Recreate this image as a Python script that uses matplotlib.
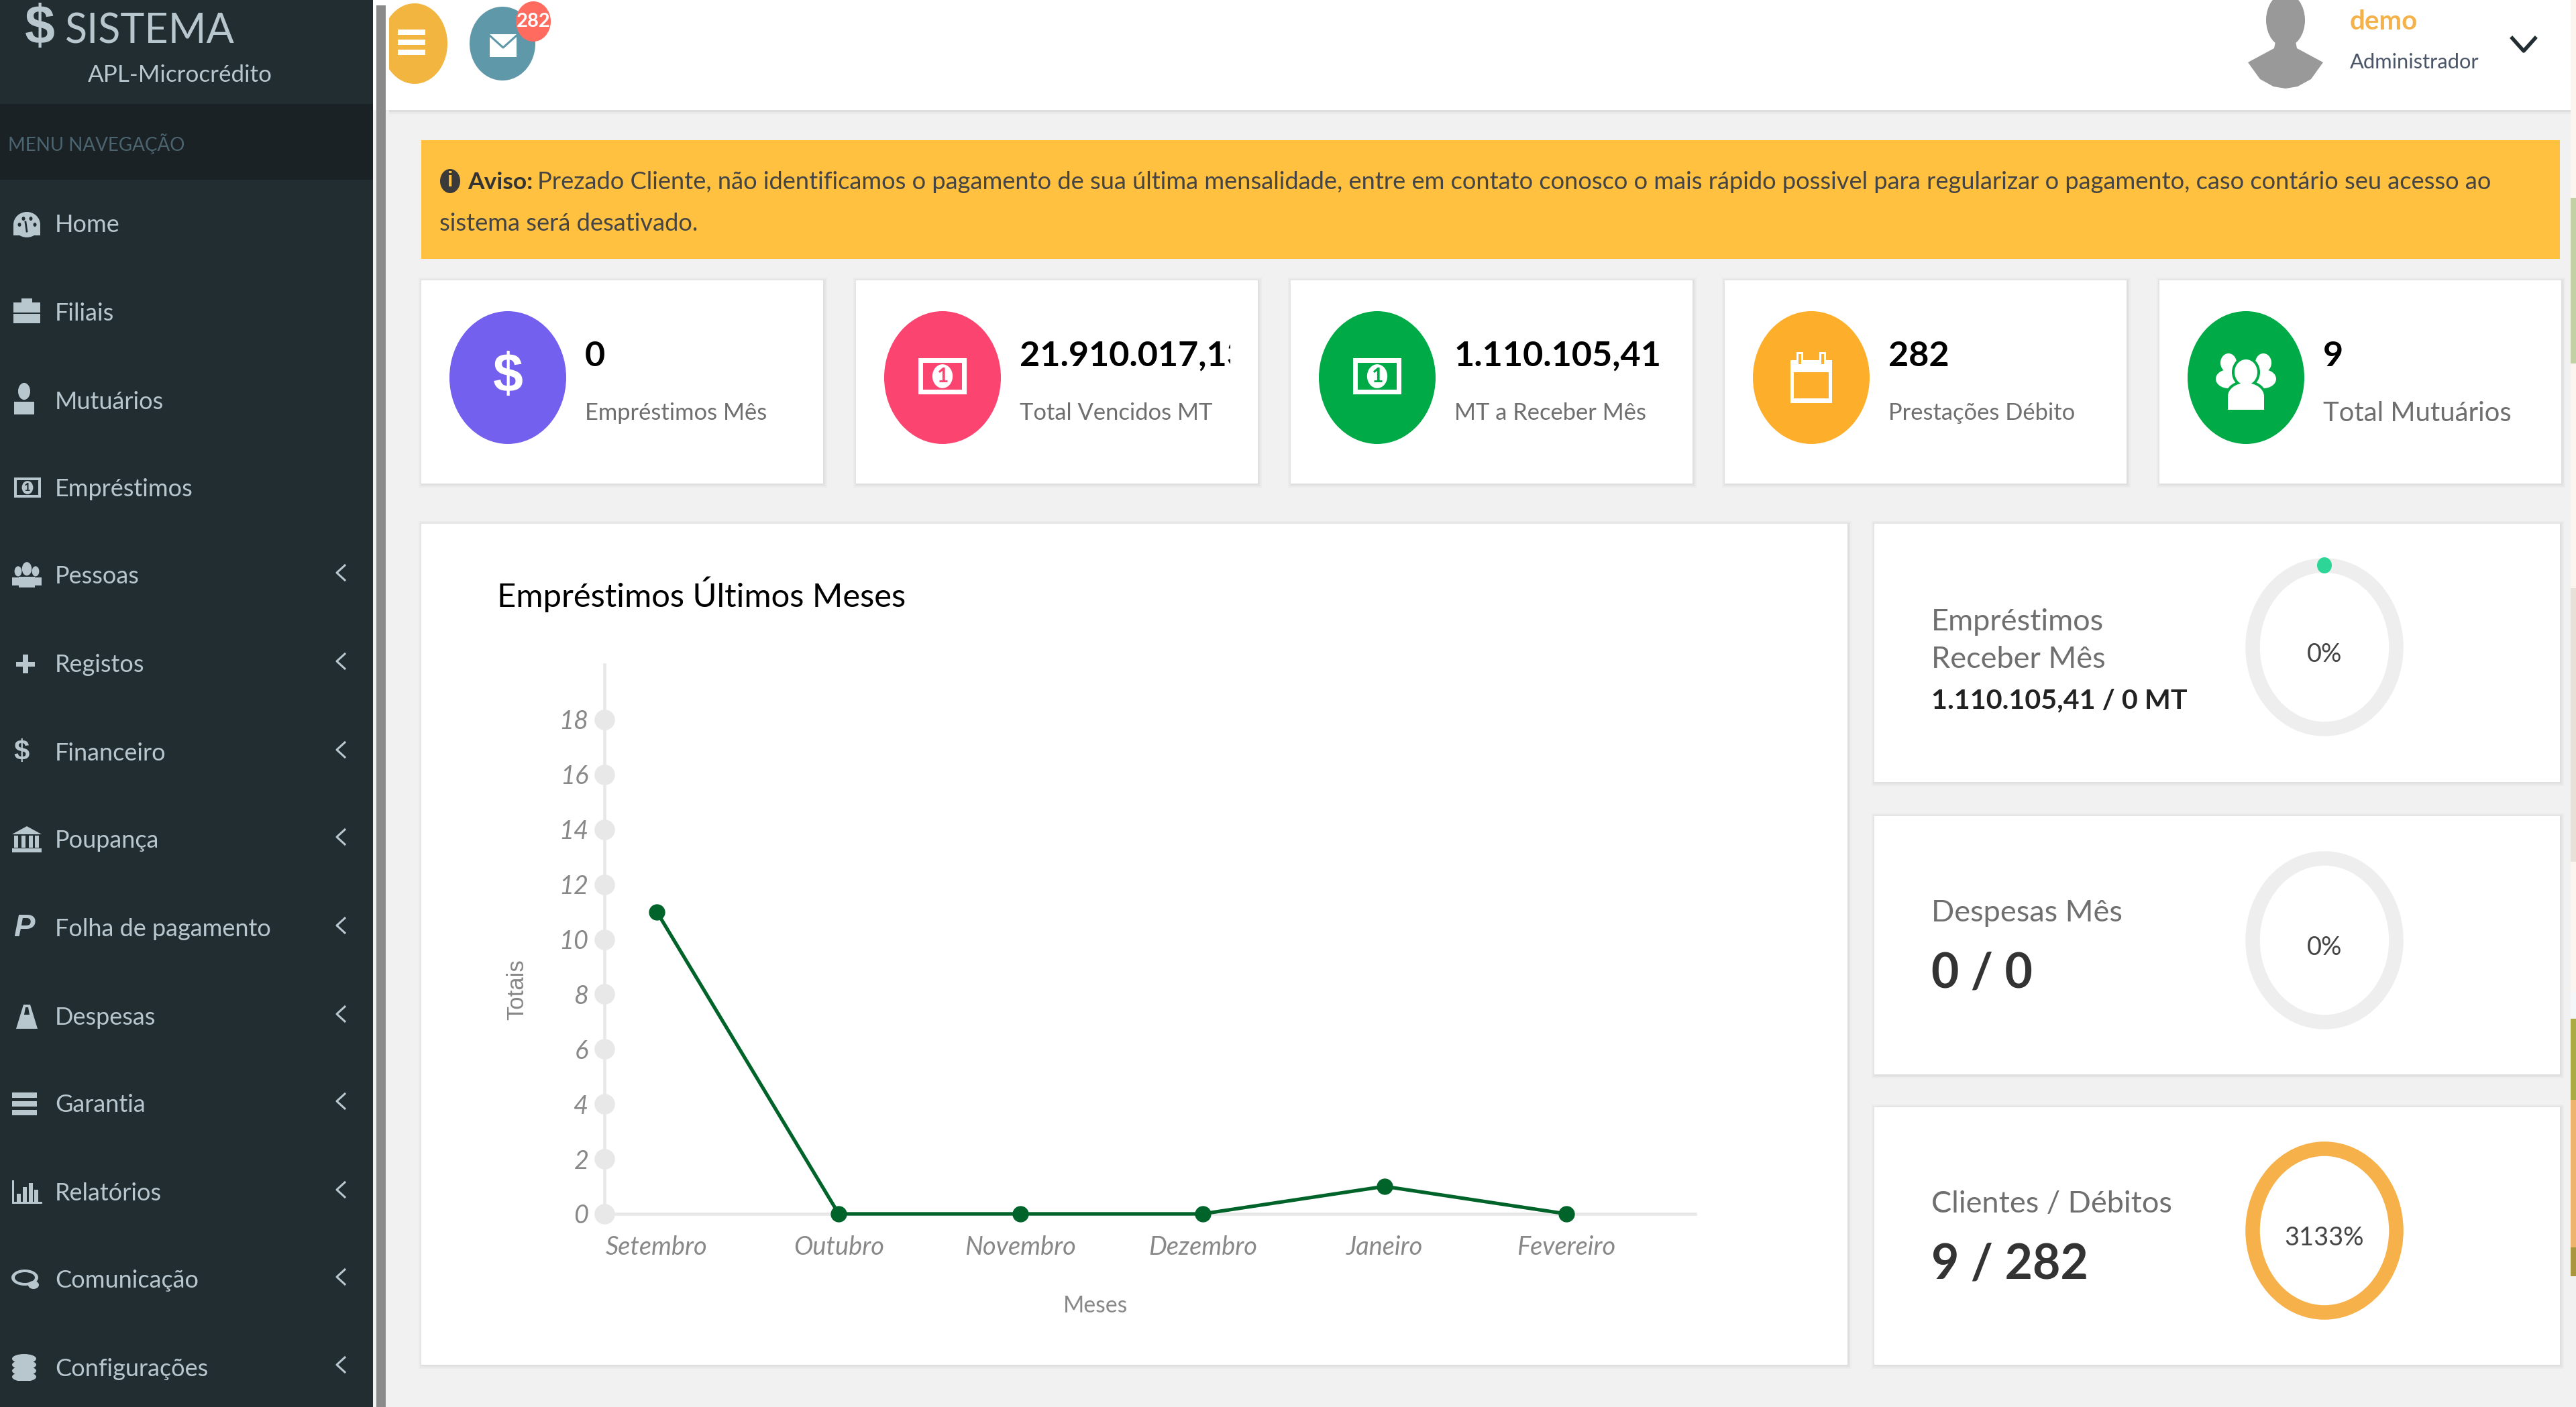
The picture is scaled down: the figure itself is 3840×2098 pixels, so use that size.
"""Microcredit dashboard rendering (side menu, summary cards, monthly loans curve)."""
from __future__ import annotations

import matplotlib

matplotlib.use("Agg")
import matplotlib.pyplot as plt  # noqa: E402
from matplotlib.patches import Ellipse, Polygon, Rectangle  # noqa: E402

# Panel palette
SIDE_BG = "#222d32"
SIDE_DARK = "#1a2226"
SIDE_TEXT = "#b8c7ce"
PAGE_BG = "#f1f1f1"
ALERT_BG = "#ffc13f"
COLOR_LINE = "#00642a"
COLOR_GUIDE = "#e8e8e8"
TEXT_MUTED = "#6f6f6f"
BODY_FONT = ["Lato", "Liberation Sans", "DejaVu Sans"]
WIDE = ["Liberation Sans", "DejaVu Sans"]

MENU_ITEMS: list[tuple[str, str, int, bool]] = [
    ("Home", "gauge", 333, False),
    ("Filiais", "case", 465, False),
    ("Mutuários", "user", 597, False),
    ("Empréstimos", "money", 727, False),
    ("Pessoas", "users", 858, True),
    ("Registos", "plus", 990, True),
    ("Financeiro", "dollar", 1122, True),
    ("Poupança", "bank", 1252, True),
    ("Folha de pagamento", "paypal", 1384, True),
    ("Despesas", "flask", 1516, True),
    ("Garantia", "lines", 1646, True),
    ("Relatórios", "chart", 1778, True),
    ("Comunicação", "chat", 1908, True),
    ("Configurações", "data", 2039, True),
]

CARDS: list[dict[str, str | int | float]] = [
    {"x": 628, "value": "0", "label": "Empréstimos Mês", "color": "#7360ee", "icon": "dollar", "size": 24.8},
    {"x": 1276, "value": "21.910.017,13", "label": "Total Vencidos MT", "color": "#fb4570", "icon": "money", "size": 24.8},
    {"x": 1924, "value": "1.110.105,41", "label": "MT a Receber Mês", "color": "#00ab47", "icon": "money", "size": 24.8},
    {"x": 2571, "value": "282", "label": "Prestações Débito", "color": "#fdae2a", "icon": "calendar", "size": 24.8},
    {"x": 3219, "value": "9", "label": "Total Mutuários", "color": "#00ab47", "icon": "users", "size": 28.8},
]

MONTHS = ["Setembro", "Outubro", "Novembro", "Dezembro", "Janeiro", "Fevereiro"]
TOTALS = [11, 0, 0, 0, 1, 0]


def _apply_panel_style() -> None:
    plt.rcParams.update(
        {
            "figure.facecolor": PAGE_BG,
            "font.family": BODY_FONT,
            "font.size": 27,
            "axes.facecolor": "none",
            "axes.edgecolor": COLOR_GUIDE,
            "axes.labelcolor": "#888888",
            "xtick.color": "#888888",
            "ytick.color": "#888888",
        }
    )


def _box(ax, x0: float, y0: float, x1: float, y1: float, color: str, **kw) -> Rectangle:
    patch = Rectangle((x0, y0), x1 - x0, y1 - y0, facecolor=color, edgecolor="none", **kw)
    ax.add_patch(patch)
    return patch


def _oval(ax, x: float, y: float, rx: float, ry: float, color: str, **kw) -> Ellipse:
    patch = Ellipse((x, y), 2 * rx, 2 * ry, facecolor=color, edgecolor="none", **kw)
    ax.add_patch(patch)
    return patch


def _card(ax, x0: float, y0: float, x1: float, y1: float) -> Rectangle:
    """White panel with a soft drop edge."""
    for grow in (5, 3, 1):
        _box(ax, x0 - grow + 1, y0 - grow + 1, x1 + grow + 1, y1 + grow + 1, "#000000", alpha=0.022)
    return _box(ax, x0, y0, x1, y1, "white")


def _user_icon(ax, x: float, y: float, s: float, color: str) -> None:
    _oval(ax, x, y - 0.45 * s, 0.3 * s, 0.42 * s, color)
    _box(ax, x - 0.5 * s, y + 0.05 * s, x + 0.5 * s, y + 0.7 * s, color)


def _money_icon(ax, x: float, y: float, w: float, h: float, color: str, back: str) -> None:
    _box(ax, x - w, y - h, x + w, y + h, color)
    _box(ax, x - 0.8 * w, y - 0.75 * h, x + 0.8 * w, y + 0.75 * h, back)
    _oval(ax, x, y, 0.42 * w, 0.66 * h, color)
    ax.text(x, y, "1", color=back, fontsize=h * 0.8, fontweight="bold", ha="center", va="center")


def _draw_menu_icon(ax, name: str, x: float, y: float) -> None:
    c = SIDE_TEXT
    if name == "gauge":
        _oval(ax, x, y + 2, 20, 19, c)
        _box(ax, x - 20, y + 4, x + 20, y + 18, c)
        for dx, dy in ((-11, 2), (-5, -7), (6, -7), (12, 2)):
            _oval(ax, x + dx, y + dy, 2.5, 3, SIDE_BG)
        ax.plot([x, x - 2], [y + 12, y - 2], color=SIDE_BG, linewidth=2)
    elif name == "case":
        _box(ax, x - 20, y - 14, x + 20, y + 17, c)
        _box(ax, x - 8, y - 20, x + 8, y - 14, c)
        _box(ax, x - 20, y + 1, x + 20, y + 3, SIDE_BG)
    elif name == "user":
        _user_icon(ax, x - 4, y, 30, c)
    elif name == "money":
        _money_icon(ax, x + 1, y, 20, 15, c, SIDE_BG)
    elif name == "users":
        _user_icon(ax, x - 13, y + 2, 18, c)
        _user_icon(ax, x + 13, y + 2, 18, c)
        _user_icon(ax, x, y + 1, 24, c)
    elif name == "plus":
        _box(ax, x - 16, y - 3, x + 12, y + 4, c)
        _box(ax, x - 6, y - 14, x + 2, y + 14, c)
    elif name == "dollar":
        ax.text(x - 8, y, "$", color=c, fontsize=30, fontweight="bold", ha="center", va="center", family=WIDE)
    elif name == "bank":
        ax.add_patch(Polygon([(x - 22, y - 8), (x, y - 20), (x + 22, y - 8)], facecolor=c, edgecolor="none"))
        for dx in (-16, -5, 6, 15):
            _box(ax, x + dx - 3, y - 6, x + dx + 3, y + 12, c)
        _box(ax, x - 22, y + 13, x + 22, y + 19, c)
    elif name == "paypal":
        ax.text(x - 4, y, "P", color=c, fontsize=34, fontweight="bold", style="italic", ha="center", va="center", family=WIDE)
    elif name == "flask":
        ax.add_patch(Polygon([(x - 5, y - 18), (x + 5, y - 18), (x + 16, y + 18), (x - 16, y + 18)], facecolor=c, edgecolor="none"))
        ax.add_patch(Polygon([(x - 2, y - 14), (x + 2, y - 14), (x + 4, y - 3), (x - 4, y - 3)], facecolor=SIDE_BG, edgecolor="none"))
    elif name == "lines":
        for dy in (-13, 0, 13):
            _box(ax, x - 22, y + dy - 4, x + 15, y + dy + 4, c)
    elif name == "chart":
        _box(ax, x - 22, y + 14, x + 23, y + 17, c)
        _box(ax, x - 22, y - 18, x - 19, y + 17, c)
        for dx, top in ((-12, 2), (-3, -8), (6, -14), (14, -4)):
            _box(ax, x + dx - 3, y + top, x + dx + 3, y + 14, c)
    elif name == "chat":
        _oval(ax, x - 3, y - 3, 20, 12, c)
        _oval(ax, x - 3, y - 3, 15, 8, SIDE_BG)
        _oval(ax, x + 10, y + 8, 8, 6, c)
    elif name == "data":
        for dy in (-13, -4, 5, 14):
            _oval(ax, x - 4, y + dy, 18, 7, c)
            _box(ax, x - 22, y + dy + 6, x + 14, y + dy + 7, SIDE_BG)


def draw_side_menu(ax) -> None:
    """Left navigation column with logo, section band and menu rows."""
    _box(ax, 0, 0, 556, 2098, SIDE_BG)
    _box(ax, 0, 155, 556, 268, SIDE_DARK)
    _box(ax, 561, 8, 575, 2098, "#8a8a8a", zorder=3)
    ax.text(59, 44, "$", color=SIDE_TEXT, fontsize=58, fontweight="bold", ha="center", va="center", family=WIDE)
    ax.text(97, 47, "SISTEMA", color=SIDE_TEXT, fontsize=44, ha="left", va="center")
    ax.text(131, 112, "APL-Microcrédito", color=SIDE_TEXT, fontsize=25.2, ha="left", va="center")
    ax.text(12, 215, "MENU NAVEGAÇÃO", color="#4b646f", fontsize=20, ha="left", va="center")
    for label, icon, y, nested in MENU_ITEMS:
        _draw_menu_icon(ax, icon, 40, y)
        ax.text(82, y + 2, label, color=SIDE_TEXT, fontsize=26, ha="left", va="center")
        if nested:
            ax.plot([514, 502, 514], [y - 15, y - 4, y + 7], color=SIDE_TEXT, linewidth=2.2)


def draw_header(ax) -> None:
    """Top white bar with round buttons and signed-in user."""
    for grow, alpha in ((6, 0.03), (3, 0.05)):
        _box(ax, 580, 164, 3832, 164 + grow, "#000000", alpha=alpha)
    _box(ax, 556, 0, 3832, 164, "white")
    _oval(ax, 618, 65, 49, 60, "#f2b53f")
    _box(ax, 556, 0, 580, 164, "white")
    _box(ax, 561, 8, 575, 164, "#8a8a8a", zorder=3)
    for y in (44, 59, 74):
        _box(ax, 593, y, 634, y + 8, "white")
    _oval(ax, 749, 65, 49, 55, "#5f98a8")
    _box(ax, 730, 51, 770, 85, "white")
    ax.plot([730, 750, 770], [53, 71, 53], color="#5f98a8", linewidth=2.2)
    _oval(ax, 795, 32, 26, 30, "#ff6b5e")
    ax.text(795, 32, "282", color="white", fontsize=21, fontweight="bold", ha="center", va="center")

    _oval(ax, 3407, 30, 29, 40, "#999999")
    outline = [(3392, 62), (3422, 62), (3424, 72), (3463, 93), (3445, 118), (3425, 129), (3407, 132), (3389, 129), (3369, 118), (3351, 93), (3390, 72)]
    ax.add_patch(Polygon(outline, facecolor="#999999", edgecolor="none"))
    ax.text(3503, 33, "demo", color="#f6b24a", fontsize=29, fontweight="bold", ha="left", va="center")
    ax.text(3503, 93, "Administrador", color="#4a5568", fontsize=22.2, ha="left", va="center")
    ax.plot([3745, 3762, 3779], [57, 76, 57], color="#222d32", linewidth=4)


def draw_alert(ax) -> None:
    """Yellow payment warning spanning the content column."""
    _box(ax, 628, 209, 3816, 386, ALERT_BG)
    _oval(ax, 671, 270, 15, 18, "#3a3a3a")
    ax.text(671, 270, "i", color=ALERT_BG, fontsize=22, fontweight="bold", ha="center", va="center", family=WIDE)
    ax.text(697, 272, "Aviso:", color="#333333", fontsize=25.5, fontweight="bold", ha="left", va="center")
    ax.text(
        801,
        272,
        "Prezado Cliente, não identificamos o pagamento de sua última mensalidade, entre em contato conosco "
        "o mais rápido possivel para regularizar o pagamento, caso contário seu acesso ao",
        color="#444444",
        fontsize=26.1,
        ha="left",
        va="center",
    )
    ax.text(655, 334, "sistema será desativado.", color="#444444", fontsize=26.1, ha="left", va="center")


def _draw_card_icon(ax, name: str, x: float, y: float, back: str) -> None:
    if name == "dollar":
        ax.text(x, y, "$", color="white", fontsize=58, fontweight="bold", ha="center", va="center", family=WIDE)
    elif name == "money":
        _money_icon(ax, x, y - 2, 36, 27, "white", back)
    elif name == "calendar":
        _box(ax, x - 31, y - 26, x + 31, y + 38, "white")
        _box(ax, x - 26, y - 8, x + 26, y + 31, back)
        for dx in (-17, 17):
            _box(ax, x + dx - 5, y - 38, x + dx + 5, y - 18, "white")
            _box(ax, x + dx - 2, y - 35, x + dx + 2, y - 20, back)
    elif name == "users":
        for dx in (-26, 26):
            _oval(ax, x + dx, y - 22, 12, 14, "white")
            _oval(ax, x + dx, y + 2, 19, 14, "white")
        for grow, fill in ((4, back), (0, "white")):
            _oval(ax, x, y - 8, 17 + grow, 19 + grow, fill)
            _oval(ax, x, y + 28, 27 + grow, 20 + grow, fill)
        _box(ax, x - 27, y + 28, x + 27, y + 48, "white")


def draw_cards(ax) -> None:
    """Row of five summary cards."""
    for card in CARDS:
        x0 = card["x"]
        _card(ax, x0, 418, x0 + 599, 721)
        _oval(ax, x0 + 129, 563, 87, 99, card["color"])
        _draw_card_icon(ax, card["icon"], x0 + 129, 563, card["color"])
        value = ax.text(x0 + 244, 531, card["value"], color="black", fontsize=37.5, fontweight="bold", ha="left", va="center")
        value.set_clip_path(Rectangle((x0, 418), 558, 303, transform=ax.transData))
        value.set_clip_on(True)
        ax.text(x0 + 244, 616, card["label"], color=TEXT_MUTED, fontsize=card["size"], ha="left", va="center")


def _ring(ax, y: float, color: str, label: str) -> None:
    ring = Ellipse((3465, y), 214, 244, facecolor="none", edgecolor=color, linewidth=15.5)
    ax.add_patch(ring)
    ax.text(3465, y + 11, label, color="#444444", fontsize=27.4, ha="center", va="center")


def draw_progress_panels(ax) -> None:
    """Three right hand panels with a ring gauge each."""
    _card(ax, 2794, 781, 3816, 1166)
    _card(ax, 2794, 1217, 3816, 1602)
    _card(ax, 2794, 1651, 3816, 2035)
    _ring(ax, 965, "#eeeeee", "0%")
    _oval(ax, 3465, 843, 11, 12, "#2dd696")
    _ring(ax, 1402, "#eeeeee", "0%")
    _ring(ax, 1835, "#f7b14a", "3133%")
    ax.text(2879, 928, "Empréstimos", color=TEXT_MUTED, fontsize=32.5, ha="left", va="center")
    ax.text(2879, 984, "Receber Mês", color=TEXT_MUTED, fontsize=32.5, ha="left", va="center")
    ax.text(2879, 1045, "1.110.105,41 / 0 MT", color="#222222", fontsize=29.7, fontweight="bold", ha="left", va="center")
    ax.text(2879, 1362, "Despesas Mês", color=TEXT_MUTED, fontsize=32.5, ha="left", va="center")
    ax.text(2879, 1452, "0 / 0", color="#333333", fontsize=51.5, fontweight="bold", ha="left", va="center")
    ax.text(2879, 1795, "Clientes / Débitos", color=TEXT_MUTED, fontsize=32.5, ha="left", va="center")
    ax.text(2879, 1886, "9 / 282", color="#333333", fontsize=51.5, fontweight="bold", ha="left", va="center")


def draw_backdrop_strip(ax) -> None:
    """Sliver of the page wallpaper left visible at the right hand edge."""
    _box(ax, 3832, 0, 3840, 1479, "#faf5f0")
    _box(ax, 3832, 295, 3840, 542, "#c3d0a6")
    _box(ax, 3832, 877, 3840, 1285, "#e6e2da")
    _box(ax, 3832, 1479, 3840, 1519, "#f4f6f9")
    _box(ax, 3832, 1519, 3840, 1640, "#a9ab45")
    _box(ax, 3832, 1640, 3840, 1860, "#eeb36c")
    _box(ax, 3832, 1860, 3840, 1903, "#a9963f")


def draw_loans_chart(fig, canvas) -> None:
    """Loans per month over the last six months."""
    _card(canvas, 628, 781, 2754, 2035)
    canvas.text(741, 886, "Empréstimos Últimos Meses", color="black", fontsize=35.3, ha="left", va="center")

    ax = fig.add_axes([901 / 3840, (2098 - 1810) / 2098, 1626 / 3840, 819 / 2098])
    ax.plot(range(len(MONTHS)), TOTALS, marker="o", color=COLOR_LINE, markersize=16.5, linewidth=3.8, clip_on=False, zorder=5)
    ax.scatter([-0.288] * 10, range(0, 20, 2), s=22**2, color=COLOR_GUIDE, clip_on=False, zorder=3, linewidths=0)
    ax.set_xlim(-0.288, 5.708)
    ax.set_ylim(0, 20)
    ax.set_xticks(range(len(MONTHS)))
    ax.set_xticklabels(MONTHS, fontsize=27.4, style="italic")
    ax.set_yticks(range(0, 20, 2))
    ax.tick_params(axis="x", length=0, pad=23)
    ax.tick_params(axis="y", length=0, pad=17, labelsize=27.4)
    for label in ax.get_yticklabels():
        label.set_style("italic")
    ax.set_xlabel("Meses", fontsize=24.3)
    ax.set_ylabel("Totais", fontsize=25, family=WIDE)
    ax.xaxis.set_label_coords(0.45, -0.167, transform=ax.transAxes)
    ax.yaxis.set_label_coords(-0.08, 0.408, transform=ax.transAxes)
    ax.xaxis.label.set_va("center")
    ax.yaxis.label.set_va("center")
    ax.spines["top"].set_visible(False)
    ax.spines["right"].set_visible(False)
    ax.spines["left"].set_linewidth(3.4)
    ax.spines["bottom"].set_linewidth(3.4)


_apply_panel_style()
fig = plt.figure(figsize=(38.4, 20.98), dpi=100)
canvas = fig.add_axes([0, 0, 1, 1])
canvas.set_xlim(0, 3840)
canvas.set_ylim(2098, 0)
canvas.axis("off")

draw_backdrop_strip(canvas)
draw_side_menu(canvas)
draw_header(canvas)
draw_alert(canvas)
draw_cards(canvas)
draw_progress_panels(canvas)
draw_loans_chart(fig, canvas)

fig.savefig("out.png", dpi=100, facecolor=PAGE_BG)
plt.close(fig)
